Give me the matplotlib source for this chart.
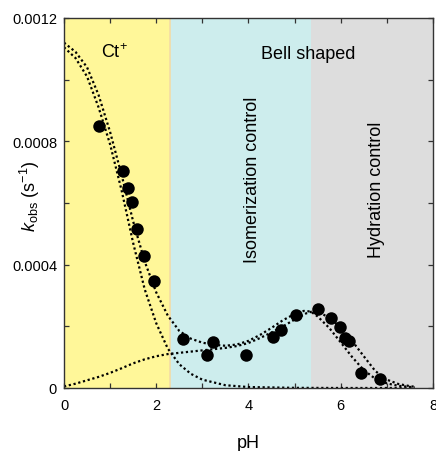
import matplotlib
matplotlib.use("Agg")
import matplotlib.pyplot as plt
from matplotlib.ticker import MultipleLocator, FixedLocator, FixedFormatter

plt.rcParams['font.family'] = ['Liberation Sans', 'DejaVu Sans']
plt.rcParams['mathtext.fontset'] = 'custom'
plt.rcParams['mathtext.rm'] = 'Liberation Sans'
plt.rcParams['mathtext.it'] = 'Liberation Sans:italic'

# measured points
ph_obs = [0.76, 1.27, 1.38, 1.47, 1.58, 1.73, 1.95, 2.59, 3.11, 3.24, 3.95,
          4.54, 4.71, 5.03, 5.51, 5.79, 5.98, 6.09, 6.18, 6.44, 6.85]
k_obs = [0.000850, 0.000704, 0.000649, 0.000603, 0.000516, 0.000428, 0.000347,
         0.000159, 0.000107, 0.000149, 0.000107, 0.000165, 0.000188, 0.000237,
         0.000256, 0.000227, 0.000198, 0.000162, 0.000152, 0.000049, 0.000030]

# fitted curves
ph_fit_ct = [0.0, 0.25, 0.5, 0.75, 1.0, 1.25, 1.5, 1.75, 2.0, 2.25, 2.5, 2.75,
             3.0, 3.5, 4.0, 5.0, 6.0, 7.6]
k_fit_ct = [0.001105, 0.00107, 0.00101, 0.00091, 0.00079, 0.00064, 0.00047,
            0.00032, 0.00021, 0.000128, 0.000077, 0.000046, 0.000027, 0.000009,
            0.000003, 0.0000005, 0.0, 0.0]

ph_fit_total = [0.0, 0.25, 0.5, 0.75, 1.0, 1.25, 1.5, 1.75, 2.0, 2.25, 2.5, 2.75,
                3.0, 3.25, 3.5, 3.75, 4.0, 4.25, 4.5, 4.75, 5.0, 5.2, 5.35, 5.5,
                5.75, 6.0, 6.25, 6.5, 6.75, 7.0, 7.25, 7.6]
k_fit_total = [0.00112, 0.00109, 0.00104, 0.00095, 0.00083, 0.00069, 0.00054,
               0.00041, 0.00031, 0.000235, 0.000185, 0.000160, 0.000147, 0.000140,
               0.000137, 0.000141, 0.000153, 0.000172, 0.000195, 0.000220, 0.000240,
               0.000250, 0.000248, 0.000232, 0.000195, 0.000148, 0.000100, 0.000058,
               0.000030, 0.000015, 0.000007, 0.000002]

ph_fit_bell = [0.0, 0.25, 0.5, 0.75, 1.0, 1.25, 1.5, 1.75, 2.0, 2.25, 2.5, 2.75,
               3.0, 3.25, 3.5, 3.75, 4.0, 4.25, 4.5, 4.75, 5.0, 5.25, 5.4, 5.5,
               5.75, 6.0, 6.25, 6.5, 6.75, 7.0, 7.25, 7.5, 7.6]
k_fit_bell = [0.000005, 0.000014, 0.000025, 0.000036, 0.000049, 0.000064, 0.00008,
              0.000093, 0.000103, 0.00011, 0.000114, 0.000118, 0.000122, 0.000126,
              0.00013, 0.000136, 0.000146, 0.000162, 0.000180, 0.000200, 0.000222,
              0.000242, 0.000249, 0.000248, 0.000228, 0.000196, 0.000152, 0.000103,
              0.000055, 0.000027, 0.000013, 0.000006, 0.000004]

# pH regions
region_edges = [0, 2.29, 5.36, 8]
region_colors = ["#fff799", "#cdeded", "#dddddd"]

fig = plt.figure(figsize=(4.36, 4.52), dpi=100)
ax = fig.add_axes([0.1468, 0.1394, 0.8462, 0.8186])

for i in range(3):
    ax.axvspan(region_edges[i], region_edges[i + 1], color=region_colors[i], lw=0, zorder=0)
ax.axvline(region_edges[1], color="#f3dca6", lw=1.2, zorder=0.5)

dot = (0, (1, 1.2))
ax.plot(ph_fit_ct, k_fit_ct, color="black", lw=1.6, ls=dot, zorder=2)
ax.plot(ph_fit_total, k_fit_total, color="black", lw=1.6, ls=dot, zorder=2)
ax.plot(ph_fit_bell, k_fit_bell, color="black", lw=1.6, ls=dot, zorder=2)
ax.plot(ph_obs, k_obs, "o", color="black", ms=9, mew=0, zorder=3)

ax.set_xlim(0, 8)
ax.set_ylim(0, 0.0012)
ax.xaxis.set_major_locator(MultipleLocator(2))
ax.xaxis.set_minor_locator(MultipleLocator(1))
ax.yaxis.set_major_locator(FixedLocator([0, 0.0004, 0.0008, 0.0012]))
ax.yaxis.set_major_formatter(FixedFormatter(["0", "0.0004", "0.0008", "0.0012"]))
ax.yaxis.set_minor_locator(MultipleLocator(0.0002))
ax.tick_params(which="both", direction="in", top=True, right=True, length=3.5,
               width=0.9, color="#333333", labelsize=10.5)
ax.tick_params(axis="x", pad=7)
ax.tick_params(axis="y", pad=5)
for s in ax.spines.values():
    s.set_color("#333333")
    s.set_linewidth(1.0)

ax.text(1.09, 0.00109, "Ct$^{+}$", fontsize=13, ha="center", va="center")
ax.text(5.3, 0.001086, "Bell shaped", fontsize=13, ha="center", va="center")
ax.text(4.08, 0.000678, "Isomerization control", fontsize=13, rotation=90,
        ha="center", va="center")
ax.text(6.77, 0.000645, "Hydration control", fontsize=13, rotation=90,
        ha="center", va="center")

ax.set_xlabel("pH", fontsize=13)
ax.xaxis.set_label_coords(0.5, -0.146)
ax.xaxis.label.set_va("center")
ax.set_ylabel(r"$k_{\rm obs}$ (s$^{-1}$)", fontsize=13)
ax.yaxis.set_label_coords(-0.092, 0.52)
ax.yaxis.label.set_va("center")

fig.savefig("out.png", dpi=100)
